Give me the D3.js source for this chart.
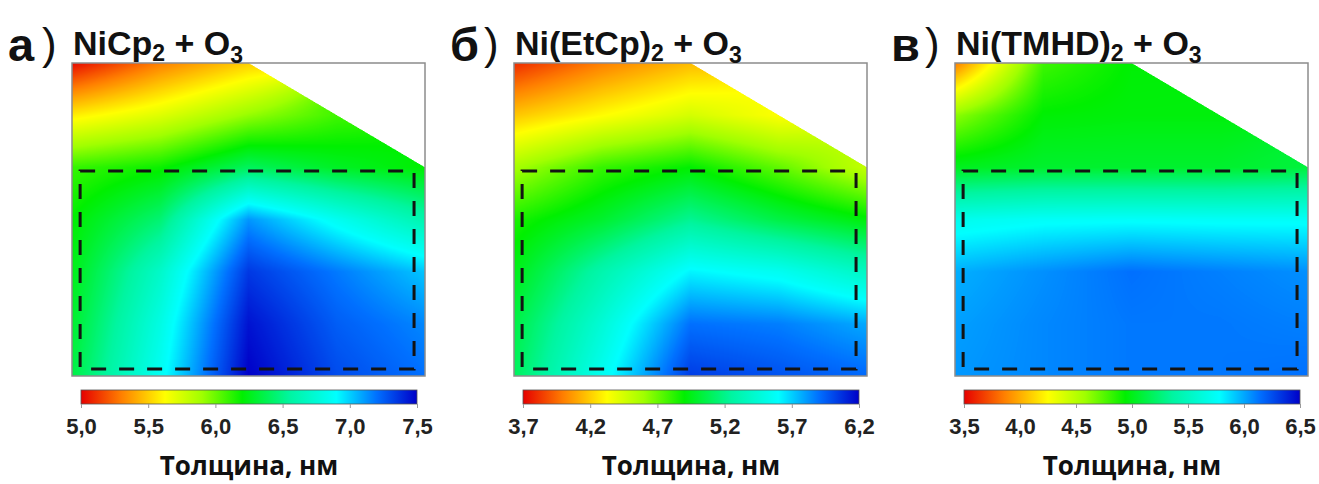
<!DOCTYPE html>
<html><head><meta charset="utf-8">
<script src="https://cdn.jsdelivr.net/npm/d3@7"></script>
<style>
body{margin:0;background:#fff;}
svg{display:block;}
</style>
</head><body>
<script>
// ---------- data ----------
const panelLetters = ["а", "б", "в"];
const precursors = ["NiCp", "Ni(EtCp)", "Ni(TMHD)"];
const coReactant = "O";
const colorbarTitle = "Толщина, нм";

// measurement grid (relative position across the substrate)
const gridU = [0, 0.25, 0.5, 0.75, 1];
const gridV = [0, 1/6, 1/3, 1/2, 2/3, 5/6, 1];

// thickness, nm (null = not measured)
const thicknessA = [
  [5.02, 5.30, 5.50, null, null],
  [5.58, 5.72, 5.92, 6.08, null],
  [6.10, 6.18, 6.40, 6.28, 6.20],
  [6.20, 6.45, 7.12, 6.85, 6.60],
  [6.25, 6.70, 7.35, 7.18, 7.02],
  [6.30, 6.80, 7.45, 7.25, 7.15],
  [6.35, 6.86, 7.50, 7.30, 7.20]
];
const thicknessB = [
  [3.80, 4.00, 4.15, null, null],
  [4.18, 4.32, 4.45, 4.33, null],
  [4.58, 4.80, 4.90, 4.72, 4.50],
  [4.85, 5.00, 5.22, 5.05, 4.92],
  [4.95, 5.30, 5.62, 5.55, 5.38],
  [5.05, 5.45, 5.90, 5.87, 5.78],
  [5.10, 5.55, 6.04, 5.98, 5.92]
];
const thicknessC = [
  [3.85, 4.80, 4.95, null, null],
  [4.62, 4.95, 4.97, 4.97, null],
  [5.02, 5.06, 5.06, 5.06, 5.10],
  [5.70, 5.75, 5.76, 5.75, 5.75],
  [5.98, 6.06, 6.14, 6.10, 6.06],
  [6.02, 6.08, 6.12, 6.12, 6.10],
  [6.04, 6.08, 6.12, 6.12, 6.14]
];

const rangeA = [5.0, 7.5], rangeB = [3.7, 6.2], rangeC = [3.5, 6.5];
const ticksA = [5.0, 5.5, 6.0, 6.5, 7.0, 7.5];
const ticksB = [3.7, 4.2, 4.7, 5.2, 5.7, 6.2];
const ticksC = [3.5, 4.0, 4.5, 5.0, 5.5, 6.0, 6.5];

// measured area of the substrate (top-right corner not measured)
const measuredArea = [[0, 0], [0.5, 0], [1, 1/3], [1, 1], [0, 1]];
// highlighted region [u0, v0, u1, v1]
const highlightRegion = [0.023, 0.345, 0.969, 0.978];

// colour map (rainbow / jet-like)
const cmapPos = [0, 0.12, 0.25, 0.36, 0.48, 0.62, 0.76, 0.88, 1];
const cmapCol = ["#e60000", "#ff7f00", "#ffff00", "#a0ff00", "#00f000", "#00f5a0", "#00ffff", "#0070ff", "#0000c8"];

// ---------- layout ----------
const W = 1319, H = 484;
const panelX = [72, 514, 955];
const plotW = 353, plotTop = 63, plotBottom = 376;

const panels = [
  {grid: thicknessA, range: rangeA, ticks: ticksA},
  {grid: thicknessB, range: rangeB, ticks: ticksB},
  {grid: thicknessC, range: rangeC, ticks: ticksC}
];

const svg = d3.select("body").append("svg").attr("width", W).attr("height", H);
const defs = svg.append("defs");

const cmap = d3.scaleLinear().domain(cmapPos).range(cmapCol).interpolate(d3.interpolateRgb).clamp(true);
const LUT = d3.range(1024).map(i => d3.rgb(cmap(i / 1023)));

function field(grid, u, v) {
  let i = d3.bisectRight(gridU, u) - 1; i = Math.max(0, Math.min(gridU.length - 2, i));
  let j = d3.bisectRight(gridV, v) - 1; j = Math.max(0, Math.min(gridV.length - 2, j));
  const tu = (u - gridU[i]) / (gridU[i + 1] - gridU[i]);
  const tv = (v - gridV[j]) / (gridV[j + 1] - gridV[j]);
  const c = [[grid[j][i], (1 - tu) * (1 - tv)], [grid[j][i + 1], tu * (1 - tv)],
             [grid[j + 1][i], (1 - tu) * tv], [grid[j + 1][i + 1], tu * tv]];
  let s = 0, w = 0;
  for (const [val, wt] of c) if (val != null) { s += val * wt; w += wt; }
  return w > 1e-9 ? s / w : NaN;
}

const fmt = d => d3.format(".1f")(d).replace(".", ",");

panels.forEach((p, k) => {
  const x0 = panelX[k], x1 = x0 + plotW;
  const xs = d3.scaleLinear().domain([0, 1]).range([x0, x1]);
  const ys = d3.scaleLinear().domain([0, 1]).range([plotTop, plotBottom]);
  const vs = d3.scaleLinear().domain(p.range).range([0, 1]).clamp(true);

  // heat map raster
  const w = Math.round(x1 - x0), h = Math.round(plotBottom - plotTop);
  const cv = document.createElement("canvas"); cv.width = w; cv.height = h;
  const ctx = cv.getContext("2d");
  const img = ctx.createImageData(w, h);
  const sub = [[0.25, 0.25], [0.75, 0.25], [0.25, 0.75], [0.75, 0.75]];
  for (let py = 0; py < h; py++) {
    for (let px = 0; px < w; px++) {
      let inside = 0;
      for (const [sx, sy] of sub) {
        if (d3.polygonContains(measuredArea, [xs.invert(x0 + px + sx), ys.invert(plotTop + py + sy)])) inside++;
      }
      const o = (py * w + px) * 4;
      if (inside === 0) { img.data[o + 3] = 0; continue; }
      const u = xs.invert(x0 + px + 0.5), v = ys.invert(plotTop + py + 0.5);
      const val = field(p.grid, Math.min(u, 1), Math.min(v, 1));
      const c = LUT[Math.round(vs(val) * 1023)];
      img.data[o] = c.r; img.data[o + 1] = c.g; img.data[o + 2] = c.b;
      img.data[o + 3] = Math.round(255 * inside / 4);
    }
  }
  ctx.putImageData(img, 0, 0);
  svg.append("image").attr("x", x0).attr("y", plotTop).attr("width", w).attr("height", h)
    .attr("href", cv.toDataURL());

  // frame
  svg.append("rect").attr("x", x0).attr("y", plotTop).attr("width", x1 - x0).attr("height", plotBottom - plotTop)
    .attr("fill", "none").attr("stroke", "#8c8c8c").attr("stroke-width", 1.5);

  // dashed highlight
  const [hu0, hv0, hu1, hv1] = highlightRegion;
  svg.append("rect").attr("x", xs(hu0)).attr("y", ys(hv0))
    .attr("width", xs(hu1) - xs(hu0)).attr("height", ys(hv1) - ys(hv0))
    .attr("fill", "none").attr("stroke", "#131313").attr("stroke-width", 3)
    .attr("stroke-dasharray", "15,13");

  // panel letter + title
  svg.append("text").attr("x", x0 - 64).attr("y", 61)
    .attr("font-family", "Liberation Sans, Arial, sans-serif").attr("font-weight", "bold")
    .attr("font-size", 47).attr("fill", "#111").text(panelLetters[k]);
  svg.append("text").attr("x", x0 - 30).attr("y", 59)
    .attr("font-family", "Liberation Sans, Arial, sans-serif").attr("font-weight", "normal")
    .attr("font-size", 44).attr("fill", "#111").text(")");
  const t = svg.append("text").attr("x", x0 + 1).attr("y", 55)
    .attr("font-family", "Liberation Sans, Arial, sans-serif").attr("font-weight", "bold")
    .attr("font-size", 34).attr("fill", "#111");
  t.append("tspan").text(precursors[k]);
  t.append("tspan").attr("font-size", 23).attr("dy", 6).text("2");
  t.append("tspan").attr("dy", -6).text(" + " + coReactant);
  t.append("tspan").attr("font-size", 23).attr("dy", 8).text("3");

  // colour bar
  const cbX0 = x0 + 9, cbX1 = x1 - 8, cbY = 390, cbH = 14;
  const gid = "grad" + k;
  const g = defs.append("linearGradient").attr("id", gid).attr("x1", "0%").attr("x2", "100%");
  cmapPos.forEach((pos, i) => g.append("stop").attr("offset", pos).attr("stop-color", cmapCol[i]));
  svg.append("rect").attr("x", cbX0).attr("y", cbY).attr("width", cbX1 - cbX0).attr("height", cbH)
    .attr("fill", `url(#${gid})`).attr("stroke", "#555").attr("stroke-width", 0.8);
  const cs = d3.scaleLinear().domain(p.range).range([cbX0, cbX1]);
  const ax = svg.append("g").attr("transform", `translate(0,${cbY + cbH})`)
    .call(d3.axisBottom(cs).tickValues(p.ticks).tickSize(4).tickPadding(10).tickFormat(fmt));
  ax.select(".domain").remove();
  ax.selectAll(".tick line").attr("stroke", "#999");
  ax.selectAll(".tick text").attr("font-family", "Liberation Sans, Arial, sans-serif")
    .attr("font-weight", "bold").attr("font-size", 22).attr("fill", "#222");

  svg.append("text").attr("x", (cbX0 + cbX1) / 2).attr("y", 475).attr("text-anchor", "middle")
    .attr("font-family", "Open Sans, sans-serif").attr("font-weight", "bold")
    .attr("font-size", 26).attr("fill", "#111").text(colorbarTitle);
});
</script>
</body></html>
